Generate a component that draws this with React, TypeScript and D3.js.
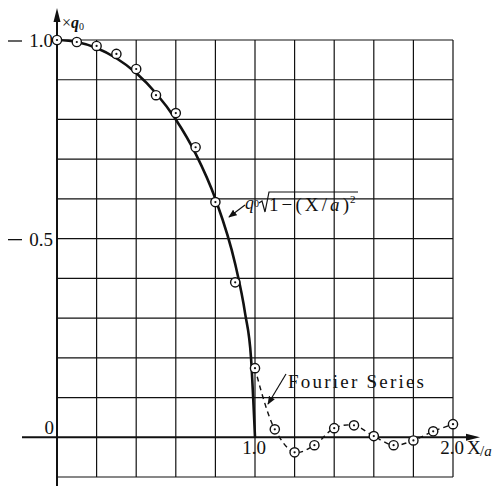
import * as d3 from "d3";

// exact-solution curve (X/a, value in units of q0)
const curveX = [0, 0.1, 0.2, 0.3, 0.4, 0.5, 0.6, 0.7, 0.8, 0.9, 0.95, 0.98, 1.0];
const curveY = [-1.0, -0.995, -0.98, -0.954, -0.917, -0.866, -0.8, -0.714, -0.6, -0.436, -0.312, -0.199, 0];

// Fourier series points (circles)
const pointX = [0, 0.1, 0.2, 0.3, 0.4, 0.5, 0.6, 0.7, 0.8, 0.9, 1.0, 1.1, 1.2, 1.3, 1.4, 1.5, 1.6, 1.7, 1.8, 1.9, 2.0];
const pointY = [-1.0, -0.995, -0.985, -0.965, -0.927, -0.861, -0.816, -0.73, -0.592, -0.39, -0.174, -0.02, 0.038, 0.02, -0.023, -0.03, -0.003, 0.02, 0.008, -0.015, -0.033];

const yTickLabels = [
  { v: -1.0, text: "1.0" },
  { v: -0.5, text: "0.5" },
  { v: 0, text: "0" },
];
const xTickLabels = [
  { v: 1.0, text: "1.0" },
  { v: 2.0, text: "2.0" },
];

const W = 496;
const H = 486;
const ink = "#111";
const serif = { fontFamily: "'Liberation Serif', 'Times New Roman', serif" };

export default function App() {
  const x = d3.scaleLinear().domain([0, 2]).range([57, 453]);
  const y = d3.scaleLinear().domain([-1, 0.1]).range([40, 477]);

  const xGrid = x.ticks(10);
  const yGrid = y.ticks(11);

  const exact = curveX.map((v, i) => [v, curveY[i]] as [number, number]);
  const points = pointX.map((v, i) => [v, pointY[i]] as [number, number]);
  const fourier = points.filter((d) => d[0] >= 1.0);

  const line = d3
    .line<[number, number]>()
    .x((d) => x(d[0]))
    .y((d) => y(d[1]))
    .curve(d3.curveMonotoneX);
  const dashLine = d3
    .line<[number, number]>()
    .x((d) => x(d[0]))
    .y((d) => y(d[1]))
    .curve(d3.curveCatmullRom.alpha(0.5));

  const x0 = x(0);
  const y0 = y(0);

  return (
    <svg
      width={W}
      height={H}
      style={{ position: "absolute", left: 0, top: 0, background: "#fff" }}
    >
      <defs>
        <marker id="arr" viewBox="0 0 10 10" refX="9" refY="5" markerWidth="7" markerHeight="7" orient="auto">
          <path d="M0,1 L10,5 L0,9 z" fill={ink} />
        </marker>
      </defs>

      {/* grid */}
      <g stroke={ink} strokeWidth={1.2}>
        {xGrid.filter((v) => v > 0).map((v) => (
          <line key={"gx" + v} x1={x(v)} x2={x(v)} y1={y(-1)} y2={y(0.1)} />
        ))}
        {yGrid.filter((v) => Math.abs(v) > 1e-9).map((v) => (
          <line key={"gy" + v} x1={x0} x2={x(2)} y1={y(v)} y2={y(v)} />
        ))}
      </g>

      {/* axes */}
      <g stroke={ink} strokeWidth={2}>
        <line x1={x0} x2={x0} y1={H} y2={20} />
        <line x1={22} x2={470} y1={y0} y2={y0} />
      </g>
      <path d={`M${x0},8 L${x0 - 3.5},22 L${x0 + 3.5},22 z`} fill={ink} />
      <path d={`M480,${y0} L466,${y0 - 3.5} L466,${y0 + 3.5} z`} fill={ink} />

      {/* exact curve */}
      <path d={line(exact) || ""} fill="none" stroke={ink} strokeWidth={2.6} />

      {/* Fourier series dashed */}
      <path
        d={dashLine(fourier) || ""}
        fill="none"
        stroke={ink}
        strokeWidth={1.4}
        strokeDasharray="5,4"
      />

      {/* points */}
      {points.map((d, i) => (
        <g key={"p" + i}>
          <circle cx={x(d[0])} cy={y(d[1])} r={4.6} fill="#fff" stroke={ink} strokeWidth={1.4} />
          <circle cx={x(d[0])} cy={y(d[1])} r={1.1} fill={ink} />
        </g>
      ))}

      {/* y tick labels: long minus dash drawn as a short line */}
      {yTickLabels.map((t) => (
        <g key={"yl" + t.v}>
          {t.v !== 0 && (
            <line x1={8} x2={22} y1={y(t.v) + 1} y2={y(t.v) + 1} stroke={ink} strokeWidth={1.3} />
          )}
          <text
            x={t.v === 0 ? 54 : 53}
            y={t.v === 0 ? y(t.v) - 3 : y(t.v) + 7}
            textAnchor="end"
            fontSize={19}
            fill={ink}
            style={serif}
          >
            {t.text}
          </text>
        </g>
      ))}

      {/* x tick labels */}
      {xTickLabels.map((t) => (
        <text key={"xl" + t.v} x={x(t.v) - 1} y={y0 + 17} textAnchor="middle" fontSize={19} fill={ink} style={serif}>
          {t.text}
        </text>
      ))}
      <text x={467} y={y0 + 17} fontSize={19} fill={ink} style={serif}>
        X
      </text>
      <text x={480} y={y0 + 19} fontSize={15} fill={ink} style={serif}>
        /<tspan fontStyle="italic">a</tspan>
      </text>

      {/* y axis label */}
      <text x={62} y={28} fontSize={16} fill={ink} style={serif}>
        ×<tspan fontStyle="italic" fontWeight="bold">q</tspan>
        <tspan fontSize={10} dy={2}>0</tspan>
      </text>

      {/* formula label */}
      <line x1={245} y1={205} x2={229} y2={217} stroke={ink} strokeWidth={1.2} markerEnd="url(#arr)" />
      <text x={245} y={209} fontSize={18} fill={ink} style={serif}>
        <tspan fontStyle="italic">q</tspan>
        <tspan fontSize={10} dy={-2}>0</tspan>
      </text>
      <path d="M259,203 L262,201 L265,212 L269,192 L358,192" fill="none" stroke={ink} strokeWidth={1.2} />
      <text x={269} y={211} fontSize={19} fill={ink} style={serif} textLength={80} lengthAdjust="spacing">
        1−(X/<tspan fontStyle="italic">a</tspan>)
      </text>
      <text x={350} y={203} fontSize={11} fill={ink} style={serif}>
        2
      </text>

      {/* Fourier label */}
      <line x1={286} y1={374} x2={268} y2={404} stroke={ink} strokeWidth={1.2} markerEnd="url(#arr)" />
      <text x={288} y={388} fontSize={19} fill={ink} style={serif} textLength={136} lengthAdjust="spacing">
        Fourier Series
      </text>
    </svg>
  );
}
